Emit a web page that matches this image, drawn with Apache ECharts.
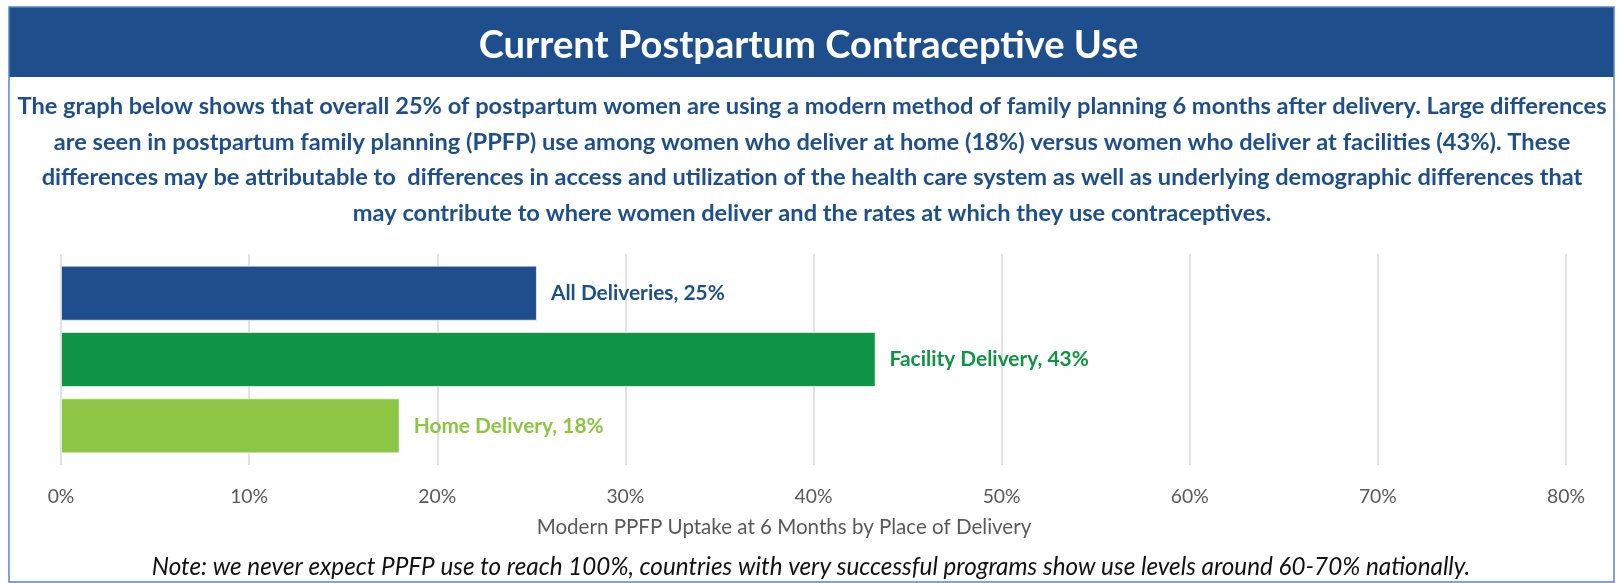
<!DOCTYPE html>
<html>
  <head>
    <meta charset="utf-8">
    <script src="https://cdn.jsdelivr.net/npm/echarts@6/dist/echarts.min.js"></script>
    <style>
      html, body { margin: 0; padding: 0; background: #fff; }
    </style>
  </head>
  <body>
    <div id="chart" style="width:1617px;height:583px;"></div>
    <script>
      var categories = ['All Deliveries', 'Facility Delivery', 'Home Delivery'];
      var uptake = [25.3, 43.3, 18.0];
      var tickValues = [0, 10, 20, 30, 40, 50, 60, 70, 80];

      var titleText = 'Current Postpartum Contraceptive Use';
      var introLines = [
        'The graph below shows that overall 25% of postpartum women are using a modern method of family planning 6 months after delivery. Large differences',
        'are seen in postpartum family planning (PPFP) use among women who deliver at home (18%) versus women who deliver at facilities (43%). These',
        'differences may be attributable to  differences in access and utilization of the health care system as well as underlying demographic differences that',
        'may contribute to where women deliver and the rates at which they use contraceptives.'
      ];
      var axisTitle = 'Modern PPFP Uptake at 6 Months by Place of Delivery';
      var noteText = 'Note: we never expect PPFP use to reach 100%, countries with very successful programs show use levels around 60-70% nationally.';

      var FONT = 'Lato, "Open Sans", sans-serif';
      var barColors = ['#1f4e8d', '#0f9445', '#8dc545'];

      // size a font so a string spans a given width
      var ctx = document.createElement('canvas').getContext('2d');
      function fit(text, weight, style, width) {
        ctx.font = style + ' ' + weight + ' 100px ' + FONT;
        return +(100 * width / ctx.measureText(text).width).toFixed(2);
      }

      var titleSize = fit(titleText, 'bold', 'normal', 660);
      var introSize = fit(introLines[0], 'bold', 'normal', 1590);
      var noteSize = fit(noteText, 'normal', 'italic', 1318);
      var axisNameSize = fit(axisTitle, 'normal', 'normal', 495);
      var tickSize = fit('10%', 'normal', 'normal', 38);
      var barLabelSize = fit('Home Delivery, 18%', 'bold', 'normal', 190);

      var chart = echarts.init(document.getElementById('chart'), null, { renderer: 'canvas' });

      chart.setOption({
        animation: false,
        backgroundColor: '#ffffff',
        title: {
          text: titleText,
          left: 'center',
          top: 41,
          textVerticalAlign: 'middle',
          textStyle: { color: '#ffffff', fontFamily: FONT, fontWeight: 'bold', fontSize: titleSize }
        },
        graphic: [
          { type: 'rect', z: -1, shape: { x: 9, y: 7, width: 1605, height: 70 }, style: { fill: '#1f4e8d' } },
          { type: 'rect', z: 100, shape: { x: 9, y: 7, width: 1605, height: 575 },
            style: { fill: null, stroke: '#5a85c3', lineWidth: 1.5 } },
          { type: 'text', x: 812, y: 160,
            style: { text: introLines.join('\n'), align: 'center', verticalAlign: 'middle',
              lineHeight: 35.5, fill: '#1f4e8d', font: 'bold ' + introSize + 'px ' + FONT } },
          { type: 'text', x: 811, y: 567,
            style: { text: noteText, align: 'center', verticalAlign: 'middle',
              fill: '#111111', font: 'italic ' + noteSize + 'px ' + FONT } }
        ],
        grid: [
          { left: 61, right: 51, top: 254, height: 211 },
          { left: 61, right: 51, top: 260, height: 199 }
        ],
        xAxis: [
          {
            gridIndex: 0, type: 'value', min: 0, max: 80, interval: 10,
            axisLine: { show: false }, axisTick: { show: false },
            splitLine: { show: true, lineStyle: { color: '#d9d9d9', width: 1.5 } },
            axisLabel: { formatter: '{value}%', color: '#595959', fontFamily: FONT, fontSize: tickSize, margin: 22,
              customValues: tickValues },
            name: axisTitle, nameLocation: 'middle', nameGap: 52,
            nameTextStyle: { color: '#595959', fontFamily: FONT, fontSize: axisNameSize, padding: [0, 59, 0, 0] }
          },
          {
            gridIndex: 1, type: 'value', min: 0, max: 80, interval: 10, show: false,
            splitLine: { show: false }
          }
        ],
        yAxis: [
          { gridIndex: 0, type: 'category', data: categories, inverse: true, show: false },
          { gridIndex: 1, type: 'category', data: categories, inverse: true, show: false }
        ],
        series: [
          {
            type: 'bar',
            xAxisIndex: 1,
            yAxisIndex: 1,
            data: uptake,
            barWidth: 55,
            itemStyle: {
              color: function (p) { return barColors[p.dataIndex]; },
              borderColor: 'rgba(255,255,255,0.6)', borderWidth: 1
            },
            label: {
              show: true,
              position: 'right',
              distance: 14,
              fontFamily: FONT,
              fontWeight: 'bold',
              fontSize: barLabelSize,
              formatter: function (p) { return p.name + ', ' + Math.round(p.value) + '%'; },
              color: 'inherit'
            }
          }
        ]
      });
    </script>
  </body>
</html>
